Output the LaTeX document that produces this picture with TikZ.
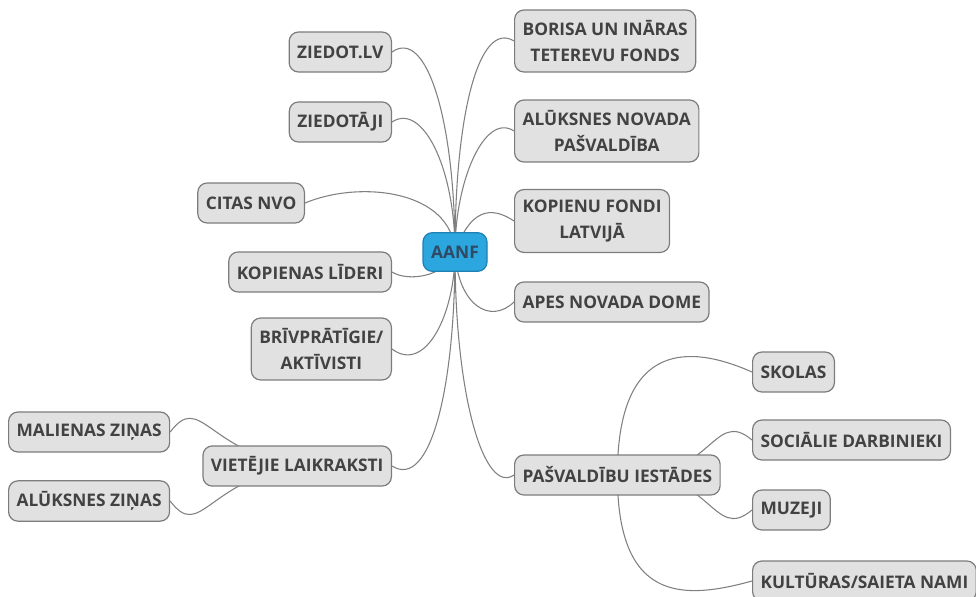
\documentclass[tikz,border=0pt]{standalone}
\usepackage{fontspec}
\setmainfont{Open Sans}
\usepackage{xcolor}
\usetikzlibrary{backgrounds}

\definecolor{boxfill}{HTML}{E1E1E1}
\definecolor{boxline}{HTML}{7C7C7C}
\definecolor{linkgray}{HTML}{808080}
\definecolor{txtgray}{HTML}{424242}
\definecolor{rootblue}{HTML}{2BA6DF}
\definecolor{rootline}{HTML}{1E80B4}
\definecolor{roottxt}{HTML}{2F4A62}

\begin{document}
\begin{tikzpicture}[x=0.75pt,y=-0.75pt]
  \useasboundingbox (0,0) rectangle (976,597);
  \tikzstyle{leaf}=[rectangle,rounded corners=7pt,draw=boxline,fill=boxfill,line width=0.9pt,
    text=txtgray,font=\fontsize{13}{19}\selectfont\bfseries,align=center,
    inner xsep=6pt,inner ysep=8pt,minimum height=30pt]
  \tikzstyle{root}=[leaf,draw=rootline,fill=rootblue,text=roottxt,minimum width=48pt,minimum height=29pt]
  \tikzstyle{link}=[draw=linkgray,line width=0.8pt]
  % centre
  \node[root] (aanf) at (455,252) {AANF};
  % left side
  \node[leaf,anchor=east] (ziedot) at (392,52) {ZIEDOT.LV};
  \node[leaf,anchor=east] (ziedotaji) at (392,122) {ZIEDOTĀJI};
  \node[leaf,anchor=east] (citas) at (305,203) {CITAS NVO};
  \node[leaf,anchor=east] (lideri) at (392,272) {KOPIENAS LĪDERI};
  \node[leaf,anchor=east] (brivpr) at (392,349) {BRĪVPRĀTĪGIE/\\AKTĪVISTI};
  \node[leaf,anchor=east] (vietejie) at (392,466) {VIETĒJIE LAIKRAKSTI};
  \node[leaf,anchor=west] (malienas) at (8,432) {MALIENAS ZIŅAS};
  \node[leaf,anchor=west] (aluksnesz) at (8,501) {ALŪKSNES ZIŅAS};
  % right side
  \node[leaf,anchor=west] (borisa) at (514,41) {BORISA UN INĀRAS\\TETEREVU FONDS};
  \node[leaf,anchor=west] (aluksnes) at (514,131) {ALŪKSNES NOVADA\\PAŠVALDĪBA};
  \node[leaf,anchor=west] (kopienu) at (514,221) {KOPIENU FONDI\\LATVIJĀ};
  \node[leaf,anchor=west] (apes) at (514,302) {APES NOVADA DOME};
  \node[leaf,anchor=west] (pasv) at (514,475) {PAŠVALDĪBU IESTĀDES};
  \node[leaf,anchor=west] (skolas) at (752,372) {SKOLAS};
  \node[leaf,anchor=west] (social) at (752,440) {SOCIĀLIE DARBINIEKI};
  \node[leaf,anchor=west] (muzeji) at (752,510) {MUZEJI};
  \node[leaf,anchor=west] (kultura) at (752,581) {KULTŪRAS/SAIETA NAMI};

  \begin{scope}[on background layer]
    % branches of the centre
    \draw[link] (aanf.center) .. controls +(0,-130) and +(35,-25) .. (ziedot.east);
    \draw[link] (aanf.center) .. controls +(0,-85) and +(30,-20) .. (ziedotaji.east);
    \draw[link] (aanf.center) .. controls +(-3,-62) and +(55,-23) .. (citas.east);
    \draw[link] (aanf.center) .. controls +(-10,25) and +(16,10) .. (lideri.east);
    \draw[link] (aanf.center) .. controls +(0,63) and +(33,25) .. (brivpr.east);
    \draw[link] (aanf.center) .. controls +(0,138) and +(38,24) .. (vietejie.east);
    \draw[link] (aanf.center) .. controls +(0,-142) and +(-34,-21) .. (borisa.west);
    \draw[link] (aanf.center) .. controls +(0,-72) and +(-29,-19) .. (aluksnes.west);
    \draw[link] (aanf.center) .. controls +(15,-42) and +(-24,-16) .. (kopienu.west);
    \draw[link] (aanf.center) .. controls +(3,53) and +(-24,23) .. (apes.west);
    \draw[link] (aanf.center) .. controls +(0,148) and +(-29,20) .. (pasv.west);
    % newspapers
    \draw[link] (vietejie.center) .. controls +(-90,-15) and +(30,-40) .. (malienas.east);
    \draw[link] (vietejie.center) .. controls +(-90,15) and +(30,40) .. (aluksnesz.east);
    % institutions
    \draw[link] (pasv.center) .. controls +(0,-125) and +(-72,-32) .. (skolas.west);
    \draw[link] (pasv.center) .. controls +(95,10) and +(-40,-34) .. (social.west);
    \draw[link] (pasv.center) .. controls +(95,-10) and +(-40,34) .. (muzeji.west);
    \draw[link] (pasv.center) .. controls +(0,125) and +(-72,20) .. (kultura.west);
  \end{scope}
\end{tikzpicture}
\end{document}
